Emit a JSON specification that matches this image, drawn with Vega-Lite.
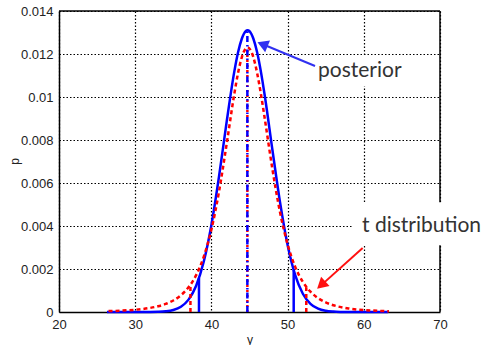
{
  "$schema": "https://vega.github.io/schema/vega-lite/v6.json",
  "width": 381,
  "height": 301,
  "autosize": "none",
  "padding": {"left": 59, "top": 11, "right": 43, "bottom": 33},
  "background": "white",
  "config": {
    "view": {"stroke": null},
    "axis": {"labelFont": "Liberation Sans", "titleFont": "Liberation Sans", "labelFontSize": 13, "titleFontSize": 12, "labelColor": "#222", "titleColor": "#222", "titleFontWeight": "normal"}
  },
  "datasets": {
    "posterior": [
      {"x": 26.3, "p": 0}, {"x": 30, "p": 0}, {"x": 32, "p": 0.000003}, {"x": 33, "p": 0.00001},
      {"x": 34, "p": 0.000032}, {"x": 35, "p": 0.000093}, {"x": 36, "p": 0.000244}, {"x": 37, "p": 0.000576},
      {"x": 38, "p": 0.001224}, {"x": 39, "p": 0.002346}, {"x": 40, "p": 0.00405}, {"x": 41, "p": 0.0063},
      {"x": 42, "p": 0.00884}, {"x": 43, "p": 0.01117}, {"x": 43.5, "p": 0.01208}, {"x": 44, "p": 0.01272},
      {"x": 44.25, "p": 0.01293}, {"x": 44.75, "p": 0.0131}, {"x": 45.25, "p": 0.01293}, {"x": 45.5, "p": 0.01272},
      {"x": 46, "p": 0.01208}, {"x": 46.5, "p": 0.01117}, {"x": 47, "p": 0.01007}, {"x": 48, "p": 0.00756},
      {"x": 49, "p": 0.00512}, {"x": 50, "p": 0.00312}, {"x": 51, "p": 0.001716}, {"x": 52, "p": 0.00085},
      {"x": 53, "p": 0.00038}, {"x": 54, "p": 0.000153}, {"x": 55, "p": 0.000055}, {"x": 56, "p": 0.000018},
      {"x": 57, "p": 0.000005}, {"x": 58, "p": 0.000001}, {"x": 60, "p": 0}, {"x": 63.2, "p": 0}
    ],
    "tdist": [
      {"x": 26.5, "p": 0.000041}, {"x": 27, "p": 0.000047}, {"x": 28, "p": 0.00006}, {"x": 29, "p": 0.000079},
      {"x": 30, "p": 0.000105}, {"x": 31, "p": 0.000141}, {"x": 32, "p": 0.000192}, {"x": 33, "p": 0.000266},
      {"x": 34, "p": 0.000375}, {"x": 35, "p": 0.000536}, {"x": 36, "p": 0.000779}, {"x": 37, "p": 0.001149},
      {"x": 38, "p": 0.001715}, {"x": 39, "p": 0.002572}, {"x": 40, "p": 0.003836}, {"x": 41, "p": 0.0056},
      {"x": 42, "p": 0.00781}, {"x": 43, "p": 0.01013}, {"x": 43.5, "p": 0.01112}, {"x": 44, "p": 0.01186},
      {"x": 44.25, "p": 0.0121}, {"x": 44.75, "p": 0.0123}, {"x": 45.25, "p": 0.0121}, {"x": 45.5, "p": 0.01186},
      {"x": 46, "p": 0.01112}, {"x": 46.5, "p": 0.01013}, {"x": 47, "p": 0.009}, {"x": 48, "p": 0.00666},
      {"x": 49, "p": 0.00465}, {"x": 50, "p": 0.00315}, {"x": 51, "p": 0.0021}, {"x": 52, "p": 0.001403},
      {"x": 53, "p": 0.000945}, {"x": 54, "p": 0.000645}, {"x": 55, "p": 0.000447}, {"x": 56, "p": 0.000315},
      {"x": 57, "p": 0.000226}, {"x": 58, "p": 0.000164}, {"x": 59, "p": 0.000121}, {"x": 60, "p": 0.000091},
      {"x": 61, "p": 0.000069}, {"x": 62, "p": 0.000053}, {"x": 63, "p": 0.000041}, {"x": 63.3, "p": 0.000039}
    ]
  },
  "layer": [
    {
      "data": {"name": "posterior"},
      "mark": {"type": "line", "color": "#0000ff", "strokeWidth": 2.5, "interpolate": "monotone"},
      "encoding": {
        "x": {"field": "x", "type": "quantitative", "scale": {"domain": [20, 70], "nice": false},
          "axis": {"title": "y", "values": [20, 30, 40, 50, 60, 70], "grid": true, "gridColor": "#000", "gridDash": [1.5, 2], "gridWidth": 1.2, "gridOpacity": 1, "domainColor": "#000", "domainWidth": 1.5, "ticks": false, "labelPadding": 6, "labelFlush": false, "labelOverlap": false, "titleY": 22, "titleBaseline": "top"}},
        "y": {"field": "p", "type": "quantitative", "scale": {"domain": [0, 0.014], "nice": false},
          "axis": {"title": "p", "values": [0, 0.002, 0.004, 0.006, 0.008, 0.01, 0.012, 0.014], "format": ".3~f", "grid": true, "gridColor": "#000", "gridDash": [1.5, 2], "gridWidth": 1.2, "gridOpacity": 1, "domainColor": "#000", "domainWidth": 1.5, "ticks": false, "labelPadding": 6, "labelFlush": false, "labelOverlap": false, "titleX": -45, "titleY": 150, "titleBaseline": "middle", "titleAngle": -90}}
      }
    },
    {
      "data": {"name": "tdist"},
      "mark": {"type": "line", "color": "#ff0000", "strokeWidth": 2.5, "strokeDash": [4, 3], "interpolate": "monotone"},
      "encoding": {"x": {"field": "x", "type": "quantitative"}, "y": {"field": "p", "type": "quantitative"}}
    },
    {
      "data": {"values": [{"x": 38.37, "p": 0, "p2": 0.00158}, {"x": 50.8, "p": 0, "p2": 0.00195}]},
      "mark": {"type": "rule", "color": "#0000ff", "strokeWidth": 2.5},
      "encoding": {"x": {"field": "x", "type": "quantitative"}, "y": {"field": "p", "type": "quantitative"}, "y2": {"field": "p2"}}
    },
    {
      "data": {"values": [{"x": 37.25, "p": 0, "p2": 0.00127}, {"x": 52.45, "p": 0, "p2": 0.00115}]},
      "mark": {"type": "rule", "color": "#ff0000", "strokeWidth": 2.5, "strokeDash": [4, 3]},
      "encoding": {"x": {"field": "x", "type": "quantitative"}, "y": {"field": "p", "type": "quantitative"}, "y2": {"field": "p2"}}
    },
    {
      "data": {"values": [{"x": 44.72, "p": 0, "p2": 0.0123}]},
      "mark": {"type": "rule", "color": "#ff0000", "strokeWidth": 2.5, "strokeDash": [2, 3]},
      "encoding": {"x": {"field": "x", "type": "quantitative"}, "y": {"field": "p", "type": "quantitative"}, "y2": {"field": "p2"}}
    },
    {
      "data": {"values": [{"x": 44.72, "p": 0, "p2": 0.0131}]},
      "mark": {"type": "rule", "color": "#0000ff", "strokeWidth": 2.5, "strokeDash": [6, 3, 1.5, 3]},
      "encoding": {"x": {"field": "x", "type": "quantitative"}, "y": {"field": "p", "type": "quantitative"}, "y2": {"field": "p2"}}
    },
    {
      "data": {"values": [{"x": 20, "x2": 70, "p": 0.014, "p2": 0.014}, {"x": 70, "x2": 70, "p": 0, "p2": 0.014}]},
      "mark": {"type": "rule", "color": "#000", "strokeWidth": 1.5},
      "encoding": {"x": {"field": "x", "type": "quantitative"}, "x2": {"field": "x2"}, "y": {"field": "p", "type": "quantitative"}, "y2": {"field": "p2"}}
    },
    {
      "data": {"values": [{"x": 54.1, "x2": 66.5, "p": 0.0105, "p2": 0.0119}, {"x": 58.45, "x2": 76, "p": 0.0031, "p2": 0.0051}]},
      "mark": {"type": "rect", "color": "white", "clip": false},
      "encoding": {"x": {"field": "x", "type": "quantitative"}, "x2": {"field": "x2"}, "y": {"field": "p", "type": "quantitative"}, "y2": {"field": "p2"}}
    },
    {
      "data": {"values": [{"x": 53.6, "p": 0.01144, "x2": 46.5, "p2": 0.01249, "c": "posterior"}, {"x": 59.85, "p": 0.00298, "x2": 54.2, "p2": 0.00118, "c": "t"}]},
      "mark": {"type": "rule", "strokeWidth": 2},
      "encoding": {"x": {"field": "x", "type": "quantitative"}, "x2": {"field": "x2"}, "y": {"field": "p", "type": "quantitative"}, "y2": {"field": "p2"},
        "color": {"field": "c", "type": "nominal", "scale": {"domain": ["posterior", "t"], "range": ["#3030f0", "#ff1010"]}, "legend": null}}
    },
    {
      "data": {"values": [{"x": 46.71, "p": 0.01245, "a": 292.5, "c": "posterior"}, {"x": 54.41, "p": 0.001256, "a": 228.3, "c": "t"}]},
      "mark": {"type": "point", "shape": "triangle-up", "filled": true, "size": 160, "opacity": 1},
      "encoding": {"x": {"field": "x", "type": "quantitative"}, "y": {"field": "p", "type": "quantitative"},
        "angle": {"field": "a", "type": "quantitative", "scale": null},
        "color": {"field": "c", "type": "nominal", "scale": {"domain": ["posterior", "t"], "range": ["#3030f0", "#ff1010"]}, "legend": null}}
    },
    {
      "data": {"values": [{"x": 53.99, "p": 0.01121, "t": "posterior"}, {"x": 59.76, "p": 0.0040, "t": "t distribution"}]},
      "mark": {"type": "text", "align": "left", "baseline": "middle", "font": "Lato", "fontSize": 21, "color": "#333"},
      "encoding": {"x": {"field": "x", "type": "quantitative"}, "y": {"field": "p", "type": "quantitative"}, "text": {"field": "t"}}
    }
  ]
}
